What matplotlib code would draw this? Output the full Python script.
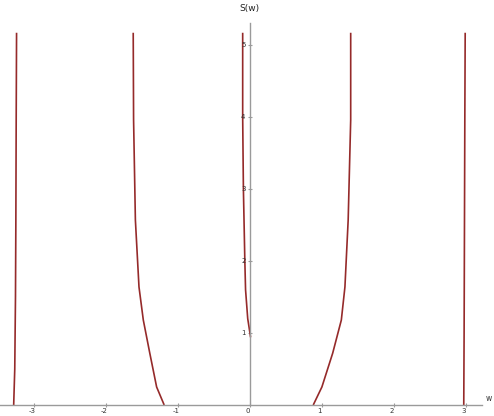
import matplotlib.pyplot as plt

# branches of S(w) (w, S)
w1 = [-3.28, -3.265, -3.255, -3.25, -3.245, -3.24]
s1 = [0.0, 0.5, 1.5, 2.5, 4.0, 5.17]

w2 = [-1.19, -1.295, -1.39, -1.48, -1.54, -1.59, -1.615, -1.62]
s2 = [0.0, 0.25, 0.72, 1.18, 1.64, 2.57, 3.96, 5.17]

w3 = [0.01, -0.03, -0.06, -0.07, -0.09, -0.10, -0.10]
s3 = [0.94, 1.2, 1.6, 2.0, 3.0, 4.0, 5.17]

w4 = [0.88, 1.00, 1.15, 1.27, 1.32, 1.365, 1.40, 1.40]
s4 = [0.0, 0.25, 0.72, 1.18, 1.64, 2.57, 3.96, 5.17]

w5 = [2.97, 2.975, 2.98, 2.985, 2.99]
s5 = [0.0, 1.0, 2.5, 4.0, 5.17]

xticks = [-3, -2, -1, 0, 1, 2, 3]
yticks = [1, 2, 3, 4, 5]

fig = plt.figure(figsize=(4.94, 4.16), dpi=100)
ax = fig.add_axes([0, 0, 1, 1])

col = '#952a2a'
for w, s in [(w1, s1), (w2, s2), (w3, s3), (w4, s4), (w5, s5)]:
    ax.plot(w, s, color=col, lw=1.2, solid_capstyle='butt', solid_joinstyle='round')

ax.set_xlim(-3.47, 3.39)
ax.set_ylim(-0.153, 5.625)

for side in ['top', 'right']:
    ax.spines[side].set_visible(False)
ax.spines['left'].set_position(('data', 0))
ax.spines['bottom'].set_position(('data', 0))
ax.spines['left'].set_bounds(0, 5.3)
ax.spines['bottom'].set_bounds(-3.47, 3.22)
for side in ['left', 'bottom']:
    ax.spines[side].set_color('#9a9a9a')
    ax.spines[side].set_linewidth(1.0)

ax.set_xticks(xticks)
ax.set_xticklabels([])
ax.set_yticks(yticks)
ax.set_yticklabels([])
ax.tick_params(axis='both', direction='inout', length=3, color='#9a9a9a', width=0.8)

for t in xticks:
    ax.text(t - 0.03, -0.035, str(t), ha='center', va='top', fontsize=5, color='#333333')
for t in yticks:
    ax.text(-0.06, t, str(t), ha='right', va='center', fontsize=5, color='#333333')

ax.text(0, 5.45, 'S(w)', ha='center', va='bottom', fontsize=6.5, color='#222222')
ax.text(3.27, 0.03, 'w', ha='left', va='bottom', fontsize=5.5, color='#333333')

fig.savefig('out.png', dpi=100)
